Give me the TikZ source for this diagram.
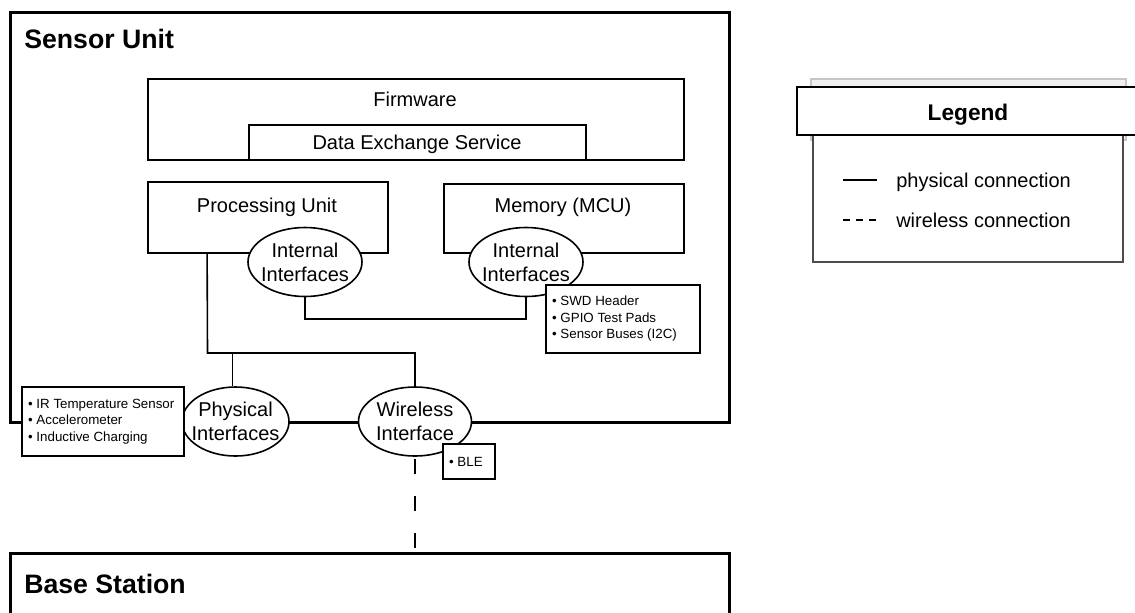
\documentclass[tikz,border=0pt]{standalone}
\usepackage{fontspec}
\setmainfont{Liberation Sans}
\usetikzlibrary{shapes.geometric,calc}
\tikzset{
  box/.style={draw, line width=1.2pt, fill=white, rectangle, inner sep=0pt},
  iface/.style={draw, line width=1.2pt, fill=white, ellipse, inner sep=0pt, minimum height=51.75pt},
  lbl/.style={font=\fontsize{15}{18}\selectfont, inner sep=0pt, align=center},
  titletext/.style={font=\bfseries\fontsize{20}{24}\selectfont, inner sep=0pt, anchor=base west},
  listtext/.style={inner sep=0pt, anchor=west, align=left, font=\fontsize{10}{12.4}\selectfont},
  wire/.style={line width=1.2pt},
  framebox/.style={line width=2.25pt},
  legtext/.style={font=\fontsize{15}{18}\selectfont, inner sep=0pt, anchor=base west},
}
\begin{document}
\begin{tikzpicture}[x=0.75pt,y=-0.75pt]
\useasboundingbox (0,0) rectangle (1135,612);
\clip (0,0) rectangle (1135,612);

% containers
\draw[framebox] (10,12) rectangle (729,422);
\node[titletext] (sutitle) at (24,48) {Sensor Unit};
\draw[framebox] (10,553) rectangle (729,690);
\node[titletext] (bstitle) at (24,593) {Base Station};
\coordinate (bstop) at (415,553);

% firmware
\node[box, minimum width=402pt, minimum height=60.75pt] (fw) at (416,119.5) {};
\node[lbl, anchor=base] (fwt) at (415,106) {Firmware};
\node[box, minimum width=252.75pt, minimum height=26.25pt] (des) at (417.5,142.5) {};
\node[lbl, anchor=base] (dest) at (417,149) {Data Exchange Service};

% processing unit and memory
\node[box, minimum width=180pt, minimum height=53.25pt] (pu) at (268,217.5) {};
\node[lbl, anchor=base] (put) at (267,212) {Processing Unit};
\node[box, minimum width=180pt, minimum height=51.75pt] (mem) at (564,218.5) {};
\node[lbl, anchor=base] (memt) at (563,212) {Memory (MCU)};

% interfaces
\node[iface, minimum width=85.5pt, label={[lbl]center:{Internal\\Interfaces}}] (ipu) at (305,262) {};
\node[iface, minimum width=85.5pt, label={[lbl]center:{Internal\\Interfaces}}] (imem) at (526,262) {};
\node[iface, minimum width=80.25pt, label={[lbl]center:{Physical\\Interfaces}}] (phys) at (235.5,421.5) {};
\node[iface, minimum width=84.75pt, label={[lbl]center:{Wireless\\Interface}}] (wl) at (415,421.5) {};

% list boxes
\node[box, minimum width=121.5pt, minimum height=51.75pt] (ir) at (103,421.5) {};
\node[listtext] (irt) at ([xshift=5pt]ir.west)
  {• IR Temperature Sensor\\• Accelerometer\\• Inductive Charging};
\node[box, minimum width=115.5pt, minimum height=51pt] (swd) at (623,319) {};
\node[listtext] (swdt) at ([xshift=5pt]swd.west)
  {• SWD Header\\• GPIO Test Pads\\• Sensor Buses (I2C)};
\node[box, minimum width=39pt, minimum height=26.25pt] (ble) at (469,461.5) {};
\node[listtext] (blet) at ([xshift=5pt]ble.west) {• BLE};

% connectors
\coordinate (j1) at (305,319);
\draw[wire] (ipu.south) -- (j1) -| (imem.south);
\coordinate (pub) at ($(pu.south west)!0.248!(pu.south east)$);
\coordinate (j2) at (207.5,353);
\draw[wire] (pub) -- (j2) -| (wl.north);
\coordinate (pbr) at (232.5,353);
\draw[wire] (pbr) -- (pbr |- phys.north);
\draw[wire, dash pattern=on 11.25pt off 16.5pt, dash phase=26.25pt] (wl.south) -- (bstop);

% legend
\fill[gray!12, draw=gray!45, line width=0.8pt] (811,79) rectangle (1126,140);
\draw[draw=gray!60!black, line width=0.9pt, fill=white] (813,135) rectangle (1123,262);
\node[draw, line width=1.5pt, fill=white, inner sep=0pt, minimum width=264.75pt, minimum height=36pt] (lghead) at (973.5,111) {};
\node[font=\bfseries\fontsize{17}{20}\selectfont, anchor=base, inner sep=0pt] (lgt) at (968,120) {Legend};
\coordinate (pa) at (843,180);
\coordinate (pb) at (877,180);
\draw[line width=0.9pt] (pa) -- (pb);
\node[legtext] (pt) at (896,187) {physical connection};
\coordinate (wa) at (843,220);
\coordinate (wb) at (877,220);
\draw[line width=0.9pt, dash pattern=on 5.25pt off 4.5pt] (wa) -- (wb);
\node[legtext] (wt) at (896,227) {wireless connection};
\end{tikzpicture}
\end{document}
